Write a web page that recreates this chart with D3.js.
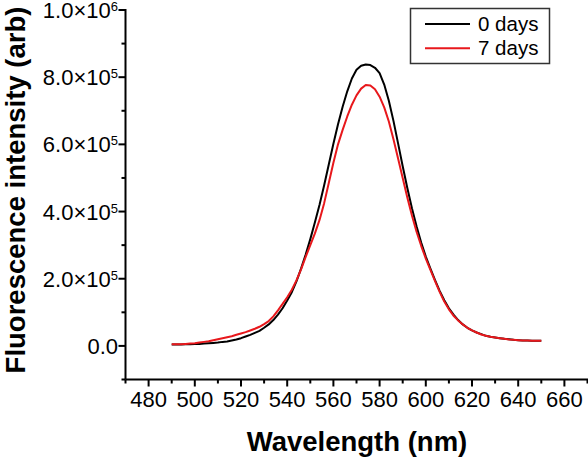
<!DOCTYPE html>
<html>
<head>
<meta charset="utf-8">
<script src="https://cdn.jsdelivr.net/npm/d3@7"></script>
<style>
  html, body { margin: 0; padding: 0; background: #fff; }
  svg { display: block; }
  text { font-family: "Liberation Sans", Arial, sans-serif; fill: #000; }
</style>
</head>
<body>
<svg id="chart" width="588" height="458"></svg>
<script>
// ---- data (intensity in units of 10^3) ----
const wavelengths = [
  490,492,494,496,498,500,502,504,506,508,
  510,512,514,516,518,520,522,524,526,528,
  530,532,534,536,538,540,542,544,546,548,
  550,552,554,556,558,560,562,564,566,568,
  570,572,574,576,578,580,582,584,586,588,
  590,592,594,596,598,600,602,604,606,608,
  610,612,614,616,618,620,622,624,626,628,
  630,632,634,636,638,640,642,644,646,648,
  650
];
const day0 = [
  4,4,4,5,5,6,6,7,8,9,
  10,12,13,16,19,23,28,33,39,45,
  54,64,77,93,112,135,160,192,230,272,
  318,368,420,478,540,602,660,712,758,796,
  822,834,838,836,828,812,778,730,670,603,
  535,470,410,356,308,266,230,196,164,136,
  112,93,77,64,54,46,40,35,30,27,
  25,23,21,20,18,17,16,16,15,15,
  15
];
const day7 = [
  5,5,5,6,7,8,10,12,14,17,
  20,23,26,29,33,37,41,46,51,57,
  65,74,88,106,125,145,167,195,228,265,
  300,335,375,425,485,545,600,643,683,718,
  746,766,777,775,764,742,710,668,615,558,
  500,442,388,340,298,260,226,193,161,132,
  109,90,76,64,54,46,40,34,30,27,
  25,23,21,19,18,17,16,16,15,15,
  15
];
const seriesNames = ["0 days", "7 days"];
const seriesColors = ["#000000", "#e8181c"];

const xMajorTicks = [480,500,520,540,560,580,600,620,640,660];
const xMinorTicks = [470,490,510,530,550,570,590,610,630,650,670];
const yMajorTicks = [0,200,400,600,800,1000];
const yMinorTicks = [-100,100,300,500,700,900];
const yTickMantissa = ["0.0","2.0","4.0","6.0","8.0","1.0"];
const yTickExponent = [null,"5","5","5","5","6"];

const xTitle = "Wavelength (nm)";
const yTitle = "Fluorescence intensity (arb)";

// ---- layout ----
const svg = d3.select("#chart");
const x = d3.scaleLinear().domain([470, 670]).range([125.5, 587.5]);
const y = d3.scaleLinear().domain([-100, 1000]).range([379.5, 10]);
const axisX = 125.5, axisY = 379.5;

// axes lines
const axes = svg.append("g").attr("stroke", "#000").attr("stroke-width", 2);
axes.append("line").attr("x1", axisX).attr("x2", axisX).attr("y1", y(1000) - 1).attr("y2", axisY);
axes.append("line").attr("x1", axisX).attr("x2", 588).attr("y1", axisY).attr("y2", axisY);

// x ticks
axes.selectAll(".xmaj").data(xMajorTicks).join("line")
  .attr("x1", d => x(d)).attr("x2", d => x(d))
  .attr("y1", axisY).attr("y2", axisY + 7);
axes.selectAll(".xmin").data(xMinorTicks).join("line")
  .attr("x1", d => x(d)).attr("x2", d => x(d))
  .attr("y1", axisY).attr("y2", axisY + 4);
// y ticks
axes.selectAll(".ymaj").data(yMajorTicks).join("line")
  .attr("x1", axisX - 7).attr("x2", axisX)
  .attr("y1", d => y(d)).attr("y2", d => y(d));
axes.selectAll(".ymin").data(yMinorTicks).join("line")
  .attr("x1", axisX - 4).attr("x2", axisX)
  .attr("y1", d => y(d)).attr("y2", d => y(d));

// x tick labels
svg.append("g").selectAll("text").data(xMajorTicks).join("text")
  .attr("x", d => x(d)).attr("y", 407)
  .attr("text-anchor", "middle").attr("font-size", 22)
  .text(d => d);

// y tick labels
const yl = svg.append("g").selectAll("text").data(yMajorTicks).join("text")
  .attr("x", 118).attr("y", d => y(d) + 8)
  .attr("text-anchor", "end").attr("font-size", 22);
yl.each(function(d, i) {
  const t = d3.select(this);
  if (yTickExponent[i] === null) {
    t.text(yTickMantissa[i]);
  } else {
    t.append("tspan").text(yTickMantissa[i] + "\u00D710");
    t.append("tspan").attr("font-size", 13).attr("dy", -7).text(yTickExponent[i]);
  }
});

// axis titles
svg.append("text").attr("x", 357).attr("y", 451)
  .attr("text-anchor", "middle").attr("font-size", 27.5).attr("font-weight", "bold")
  .text(xTitle);
svg.append("text").attr("transform", "translate(25,190) rotate(-90)")
  .attr("text-anchor", "middle").attr("font-size", 27.5).attr("font-weight", "bold")
  .text(yTitle);

// curves
const line = d3.line().x((d, i) => x(wavelengths[i])).y(d => y(d));
const series = [day0, day7];
series.forEach((s, k) => {
  svg.append("path").datum(s)
    .attr("fill", "none").attr("stroke", seriesColors[k]).attr("stroke-width", 2)
    .attr("stroke-linejoin", "round")
    .attr("d", line);
});

// legend
const lg = svg.append("g");
lg.append("rect").attr("x", 410.5).attr("y", 8.5).attr("width", 139).attr("height", 55)
  .attr("fill", "#fff").attr("stroke", "#333").attr("stroke-width", 1.5);
seriesNames.forEach((n, k) => {
  const yy = 24 + k * 24.3;
  lg.append("line").attr("x1", 425).attr("x2", 470).attr("y1", yy).attr("y2", yy)
    .attr("stroke", seriesColors[k]).attr("stroke-width", 2);
  lg.append("text").attr("x", 478).attr("y", yy + 7).attr("font-size", 20.5).text(n);
});
</script>
</body>
</html>
